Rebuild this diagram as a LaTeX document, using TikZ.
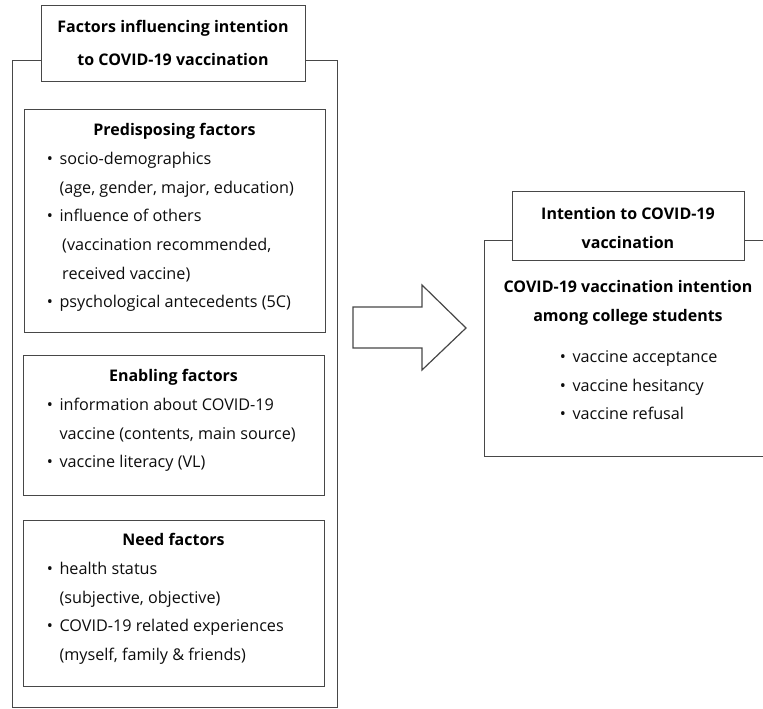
\documentclass[tikz,border=0pt]{standalone}
\usepackage{fontspec}
\setmainfont{Open Sans}
\usetikzlibrary{positioning}

\tikzset{
  box/.style={draw=black!72, line width=1.2pt, fill=white, inner sep=0pt, anchor=north west},
  head/.style={font=\fontsize{16}{18}\selectfont\bfseries, text=black, anchor=mid},
  entry/.style={font=\fontsize{16.2}{18}\selectfont, text=black!95, anchor=mid west},
}
\newcommand{\bul}{\llap{\textbullet\hspace{6.5pt}}}

\begin{document}
\begin{tikzpicture}[x=1pt,y=-1pt]
\useasboundingbox (0,0) rectangle (763,709);

% left frame with its title
\node[box, minimum width=325pt, minimum height=647pt] (left) at (12,60) {};
\node[box, minimum width=264pt, minimum height=76pt] (lefttitle) at (41,5) {};
\node[head] (lt1) at (173,30) {Factors influencing intention};
\node[head] (lt2) at (173,63) {to COVID-19 vaccination};

% predisposing factors
\node[box, minimum width=301pt, minimum height=223pt] (pre) at (24,109) {};
\node[head] (prehead) at (174.5,133) {Predisposing factors};
\foreach \t [count=\i] in {\bul socio-demographics, {(age, gender, major, education)},
    \bul influence of others, {\,(vaccination recommended,}, {\,received vaccine)},
    \bul psychological antecedents (5C)}
  \node[entry] (pre\i) at (56,{133+28.7*\i}) {\t};

% enabling factors
\node[box, minimum width=301pt, minimum height=140pt] (ena) at (23,355) {};
\node[head] (enahead) at (173.5,379) {Enabling factors};
\foreach \t [count=\i] in {\bul information about COVID-19, {vaccine (contents, main source)},
    \bul vaccine literacy (VL)}
  \node[entry] (ena\i) at (56,{379+28.7*\i}) {\t};

% need factors
\node[box, minimum width=301pt, minimum height=166pt] (need) at (23,520) {};
\node[head] (needhead) at (173.5,543) {Need factors};
\foreach \t [count=\i] in {\bul health status, {(subjective, objective)},
    \bul COVID-19 related experiences, {(myself, family \& friends)}}
  \node[entry] (need\i) at (56,{543+28.7*\i}) {\t};

% block arrow
\draw[draw=black!72, line width=1.2pt, line join=miter]
  (353,307) -- (422,307) -- (422,285) -- (466,328) -- (422,370)
  -- (422,348) -- (353,348) -- cycle;

% right frame with its title
\node[box, minimum width=300pt, minimum height=216pt] (right) at (484,240) {};
\node[box, minimum width=232pt, minimum height=69pt] (righttitle) at (512,191) {};
\node[head] (rt1) at (628,217) {Intention to COVID-19};
\node[head] (rt2) at (628,246) {vaccination};
\node[head] (rh1) at (628,290) {COVID-19 vaccination intention};
\node[head] (rh2) at (628,319) {among college students};
\foreach \t [count=\i] in {vaccine acceptance, vaccine hesitancy, vaccine refusal}
  \node[entry] (res\i) at (569,{331.5+28.5*\i}) {\bul\t};
\end{tikzpicture}
\end{document}
